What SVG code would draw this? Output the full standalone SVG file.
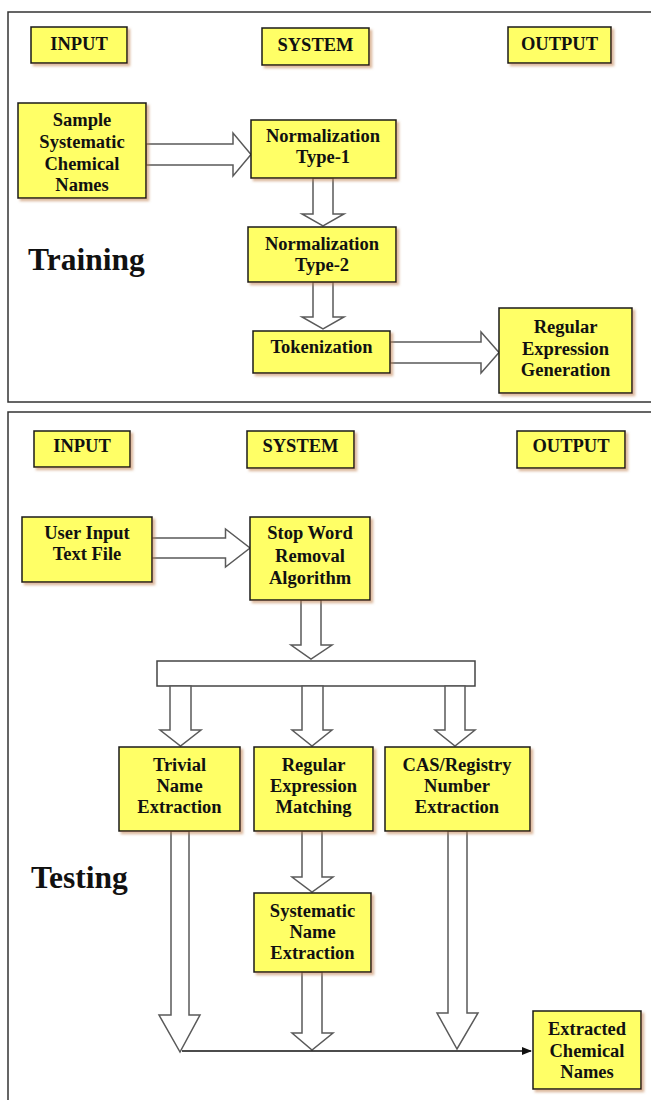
<svg xmlns="http://www.w3.org/2000/svg" width="651" height="1100" viewBox="0 0 651 1100">
<style>
.panel{fill:#fff;stroke:#333;stroke-width:1.5}
.box{fill:#ffff66;stroke:#1a1a1a;stroke-width:1.5;filter:url(#sh)}
.t{font-family:"Liberation Serif","Times New Roman",serif;font-weight:bold;font-size:18.5px;fill:#111;text-anchor:middle}
.big{font-family:"Liberation Serif","Times New Roman",serif;font-weight:bold;font-size:31.5px;fill:#111}
.ba{fill:#fff;stroke:#5a5a5a;stroke-width:1.5;stroke-linejoin:miter}
.bar{fill:#fff;stroke:#444;stroke-width:1.5}
.ln{stroke:#111;stroke-width:1.5;fill:none}
</style>
<defs>
<filter id="sh" x="-10%" y="-10%" width="130%" height="130%">
<feDropShadow dx="2.5" dy="2.5" stdDeviation="1" flood-color="#c08050" flood-opacity="0.55"/>
</filter>
<marker id="ah" markerWidth="10" markerHeight="8" refX="9" refY="4" orient="auto" markerUnits="userSpaceOnUse">
<path d="M0,0 L10,4 L0,8 Z" fill="#111"/>
</marker>
</defs>

<rect class="panel" x="8" y="12" width="660" height="390"/>
<rect class="panel" x="8" y="412" width="660" height="700"/>

<text class="big" x="28" y="270">Training</text>
<text class="big" x="31" y="888">Testing</text>

<g id="connectors">
<polygon class="ba" points="146,144 233,144 233,133 251,154.5 233,176 233,165 146,165"/>
<polygon class="ba" points="313,178 313,214 302,214 323,226 344,214 333,214 333,178"/>
<polygon class="ba" points="313,282 313,317 302,317 323,329 344,317 333,317 333,282"/>
<polygon class="ba" points="390,342 481,342 481,332 499,352.5 481,373 481,363 390,363"/>

<polygon class="ba" points="151,538 225.5,538 225.5,529 250,548 225.5,567 225.5,558 151,558"/>
<polygon class="ba" points="301,600 301,645 291,645 311,659 332,645 321,645 321,600"/>
<rect class="bar" x="157" y="661" width="318" height="25"/>
<polygon class="ba" points="170,686 170,730 160,730 180.5,746 201,730 191,730 191,686"/>
<polygon class="ba" points="302,686 302,730 292,730 312,746 332,730 323,730 323,686"/>
<polygon class="ba" points="445,686 445,730 435,730 455,746 475,730 465,730 465,686"/>
<polygon class="ba" points="171,831 171,1015 159,1015 180,1052 200,1015 189,1015 189,831"/>
<polygon class="ba" points="302,831 302,877 292,877 312,892 333,877 322,877 322,831"/>
<polygon class="ba" points="302,972 302,1033 292,1033 312,1050 333,1033 322,1033 322,972"/>
<polygon class="ba" points="448,831 448,1013 437,1013 457,1049 478,1013 467,1013 467,831"/>
<line class="ln" x1="182" y1="1051" x2="531" y2="1051" marker-end="url(#ah)"/>
</g>

<g id="train-input-hdr"><rect class="box" x="31" y="27" width="96" height="36"/><text class="t" x="79" y="50">INPUT</text></g>
<g id="train-system-hdr"><rect class="box" x="262" y="28" width="107" height="37"/><text class="t" x="315.5" y="51">SYSTEM</text></g>
<g id="train-output-hdr"><rect class="box" x="508" y="27" width="103" height="36"/><text class="t" x="559.5" y="50">OUTPUT</text></g>

<g id="sample"><rect class="box" x="18" y="103" width="128" height="95"/>
<text class="t" x="82" y="126">Sample</text><text class="t" x="82" y="148">Systematic</text><text class="t" x="82" y="170">Chemical</text><text class="t" x="82" y="191">Names</text></g>
<g id="norm1"><rect class="box" x="251" y="120" width="145" height="58"/>
<text class="t" x="323" y="142">Normalization</text><text class="t" x="323" y="163">Type-1</text></g>
<g id="norm2"><rect class="box" x="248" y="227" width="148" height="55"/>
<text class="t" x="322" y="250">Normalization</text><text class="t" x="322" y="271">Type-2</text></g>
<g id="tokenization"><rect class="box" x="253" y="331" width="137" height="42"/>
<text class="t" x="321.5" y="353">Tokenization</text></g>
<g id="regexgen"><rect class="box" x="499" y="308" width="133" height="85"/>
<text class="t" x="565.5" y="333">Regular</text><text class="t" x="565.5" y="355">Expression</text><text class="t" x="565.5" y="376">Generation</text></g>

<g id="test-input-hdr"><rect class="box" x="34" y="431" width="96" height="36"/><text class="t" x="82" y="452">INPUT</text></g>
<g id="test-system-hdr"><rect class="box" x="247" y="431" width="107" height="37"/><text class="t" x="300.5" y="452">SYSTEM</text></g>
<g id="test-output-hdr"><rect class="box" x="517" y="431" width="108" height="37"/><text class="t" x="571" y="452">OUTPUT</text></g>

<g id="userinput"><rect class="box" x="22" y="517" width="130" height="65"/>
<text class="t" x="87" y="539">User Input</text><text class="t" x="87" y="560">Text File</text></g>
<g id="stopword"><rect class="box" x="250" y="517" width="120" height="83"/>
<text class="t" x="310" y="539">Stop Word</text><text class="t" x="310" y="562">Removal</text><text class="t" x="310" y="584">Algorithm</text></g>

<g id="trivial"><rect class="box" x="119" y="747" width="121" height="84"/>
<text class="t" x="179.5" y="771">Trivial</text><text class="t" x="179.5" y="792">Name</text><text class="t" x="179.5" y="813">Extraction</text></g>
<g id="regexmatch"><rect class="box" x="254" y="747" width="119" height="84"/>
<text class="t" x="313.5" y="771">Regular</text><text class="t" x="313.5" y="792">Expression</text><text class="t" x="313.5" y="813">Matching</text></g>
<g id="cas"><rect class="box" x="385" y="747" width="145" height="84"/>
<text class="t" x="457" y="771">CAS/Registry</text><text class="t" x="457" y="792">Number</text><text class="t" x="457" y="813">Extraction</text></g>
<g id="systematic"><rect class="box" x="254" y="893" width="117" height="79"/>
<text class="t" x="312.5" y="917">Systematic</text><text class="t" x="312.5" y="938">Name</text><text class="t" x="312.5" y="959">Extraction</text></g>
<g id="extracted"><rect class="box" x="533" y="1011" width="108" height="78"/>
<text class="t" x="587" y="1035">Extracted</text><text class="t" x="587" y="1057">Chemical</text><text class="t" x="587" y="1078">Names</text></g>
</svg>
